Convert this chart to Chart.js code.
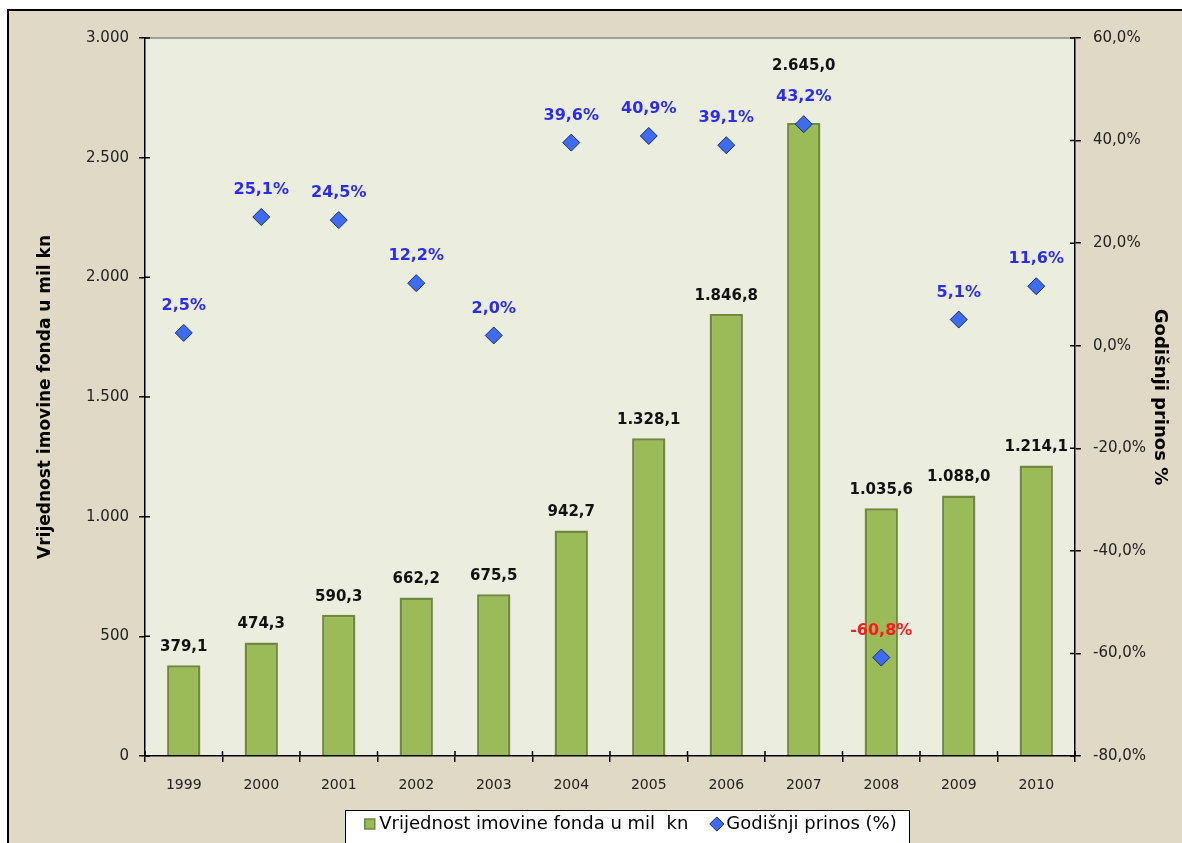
<!DOCTYPE html>
<html>
<head>
<meta charset="utf-8">
<script src="https://cdn.jsdelivr.net/npm/chart.js@4/dist/chart.umd.min.js"></script>
<style>
  html, body { margin: 0; padding: 0; background: #fff; overflow: hidden; }
  #frame { position: absolute; left: 7px; top: 9px; width: 1200px; height: 900px;
           border: 2px solid #000; background: #DFD9C5; }
  #chart { position: absolute; left: 0; top: 0; }
</style>
</head>
<body>
<div id="frame"></div>
<canvas id="chart" width="1182" height="843"></canvas>
<script>
const years = ['1999', '2000', '2001', '2002', '2003', '2004', '2005', '2006', '2007', '2008', '2009', '2010'];
// fund assets, mil kn
const fundValues = [379.1, 474.3, 590.3, 662.2, 675.5, 942.7, 1328.1, 1846.8, 2645.0, 1035.6, 1088.0, 1214.1];
// annual return, %
const annualReturns = [2.5, 25.1, 24.5, 12.2, 2.0, 39.6, 40.9, 39.1, 43.2, -60.8, 5.1, 11.6];
const seriesNames = ['Vrijednost imovine fonda u mil  kn', 'Godišnji prinos (%)'];
const leftRange = [0, 3000, 500];
const rightRange = [-80, 60, 20];

const FONT = 'DejaVu Sans';
const PLOT_BOTTOM = 756;
const LEGEND_SHIFT = 42; // legend sits a bit right of canvas centre

// 1234.5 -> "1.234,5"
function fmt(v, dec) {
  const parts = Math.abs(v).toFixed(dec).split('.');
  const int = parts[0].replace(/\B(?=(\d{3})+(?!\d))/g, '.');
  return (v < 0 ? '-' : '') + int + (parts[1] ? ',' + parts[1] : '');
}

const chartPlugin = {
  id: 'excelLook',
  afterLayout(chart) {
    chart.legend.left += LEGEND_SHIFT;
    chart.legend.right += LEGEND_SHIFT;
  },
  beforeDraw(chart) {
    const {ctx, chartArea: a} = chart;
    ctx.save();
    ctx.fillStyle = '#EBEEDF';
    ctx.fillRect(a.left, a.top, a.right - a.left, a.bottom - a.top);
    ctx.strokeStyle = '#8A8A8A';
    ctx.lineWidth = 1.5;
    ctx.beginPath();
    ctx.moveTo(a.left, a.top);
    ctx.lineTo(a.right, a.top);
    ctx.stroke();
    // white box behind the legend
    const boxes = chart.legend.legendHitBoxes;
    if (boxes && boxes.length) {
      const l = Math.round(Math.min(...boxes.map(b => b.left)) - 24.5);
      const r = Math.round(Math.max(...boxes.map(b => b.left + b.width)) + 12);
      const b0 = boxes[0];
      const t = Math.round(b0.top + b0.height / 2 - 14);
      ctx.fillStyle = '#fff';
      ctx.fillRect(l, t, r - l, chart.height - t + 5);
      ctx.strokeStyle = '#000';
      ctx.lineWidth = 1;
      ctx.strokeRect(l + 0.5, t + 0.5, r - l, chart.height - t + 5);
    }
    ctx.restore();
  },
  afterDatasetsDraw(chart) {
    const {ctx} = chart;
    const bars = chart.getDatasetMeta(0).data;
    const pts = chart.getDatasetMeta(1).data;
    ctx.save();
    ctx.textAlign = 'center';
    ctx.textBaseline = 'middle';
    pts.forEach((p, i) => {
      const v = annualReturns[i];
      ctx.font = 'bold 16px "' + FONT + '"';
      ctx.fillStyle = v < 0 ? '#FF1A1A' : '#2B2BF2';
      ctx.fillText(fmt(v, 1) + '%', p.x, p.y - 27);
    });
    bars.forEach((b, i) => {
      let y = b.y - 18;
      const py = pts[i].y - 27;
      if (Math.abs(y - py) < 20) y = py - 31;
      ctx.font = 'bold 15px "' + FONT + '"';
      ctx.fillStyle = '#111';
      ctx.fillText(fmt(fundValues[i], 1), b.x, y);
    });
    ctx.restore();
  },
  afterDraw(chart) {
    // inner half of the crossing tick marks
    const {ctx, chartArea: a, scales} = chart;
    ctx.save();
    ctx.strokeStyle = '#000';
    ctx.lineWidth = 1.5;
    ctx.beginPath();
    scales.y.ticks.forEach((t, i) => {
      const y = scales.y.getPixelForTick(i);
      ctx.moveTo(a.left, y); ctx.lineTo(a.left + 5, y);
    });
    scales.y1.ticks.forEach((t, i) => {
      const y = scales.y1.getPixelForTick(i);
      ctx.moveTo(a.right - 5, y); ctx.lineTo(a.right, y);
    });
    for (let i = 0; i <= years.length; i++) {
      const x = scales.x.getPixelForValue(i - 0.5);
      ctx.moveTo(x, a.bottom - 5); ctx.lineTo(x, a.bottom);
    }
    ctx.stroke();
    ctx.restore();
  }
};

new Chart(document.getElementById('chart').getContext('2d'), {
  type: 'bar',
  data: {
    labels: years,
    datasets: [{
      type: 'bar',
      label: seriesNames[0],
      data: fundValues,
      yAxisID: 'y',
      order: 1,
      backgroundColor: '#9BBB59',
      borderColor: '#71893F',
      borderWidth: 2.5,
      borderSkipped: 'bottom',
      barPercentage: 0.43,
      categoryPercentage: 1
    }, {
      type: 'line',
      label: seriesNames[1],
      data: annualReturns,
      yAxisID: 'y1',
      order: 0,
      showLine: false,
      pointStyle: 'rectRot',
      pointRadius: 8.5,
      pointBackgroundColor: '#3D6CF0',
      pointBorderColor: '#1E2C66',
      pointBorderWidth: 1
    }]
  },
  options: {
    responsive: false,
    animation: false,
    layout: { padding: { top: 38, left: 0, right: 0, bottom: 0 } },
    plugins: {
      tooltip: { enabled: false },
      legend: {
        position: 'bottom',
        labels: {
          font: { family: FONT, size: 18 },
          color: '#000',
          boxWidth: 1,
          boxHeight: 10,
          padding: 10,
          usePointStyle: true,
          generateLabels: () => [
            // the em space keeps the wide gap between the two entries
            { text: seriesNames[0] + '\u2003', fillStyle: '#9BBB59', strokeStyle: '#71893F', lineWidth: 1.5, pointStyle: 'rect', datasetIndex: 0 },
            { text: seriesNames[1], fillStyle: '#3D6CF0', strokeStyle: '#1E2C66', lineWidth: 1, pointStyle: 'rectRot', datasetIndex: 1 }
          ]
        }
      }
    },
    scales: {
      x: {
        afterFit: s => { s.height = s.chart.height - PLOT_BOTTOM - s.chart.legend.height; },
        grid: { display: true, drawOnChartArea: false, offset: true, color: '#000', lineWidth: 1.5, tickLength: 6 },
        border: { display: true, color: '#000', width: 1.5 },
        ticks: { color: '#222', font: { family: FONT, size: 14 }, padding: 15, maxRotation: 0 }
      },
      y: {
        position: 'left',
        min: leftRange[0], max: leftRange[1],
        afterFit: s => { s.width = 145; },
        grid: { display: true, drawOnChartArea: false, color: '#000', lineWidth: 1.5, tickLength: 6 },
        border: { display: true, color: '#000', width: 1.5 },
        ticks: { stepSize: leftRange[2], color: '#222', font: { family: FONT, size: 15 }, padding: 10,
                 callback: v => fmt(v, 0) },
        title: { display: true, text: 'Vrijednost imovine fonda u mil kn', color: '#000',
                 font: { family: FONT, size: 17, weight: 'bold' }, padding: { top: 35, bottom: 0 } }
      },
      y1: {
        position: 'right',
        min: rightRange[0], max: rightRange[1],
        afterFit: s => { s.width = 107; },
        grid: { display: true, drawOnChartArea: false, color: '#000', lineWidth: 1.5, tickLength: 6 },
        border: { display: true, color: '#000', width: 1.5 },
        ticks: { stepSize: rightRange[2], color: '#222', font: { family: FONT, size: 15 }, padding: 12,
                 callback: v => fmt(v, 1) + '%' },
        title: { display: true, text: 'Godišnji prinos %', color: '#000',
                 font: { family: FONT, size: 18, weight: 'bold' }, padding: { top: 12, bottom: 0 } }
      }
    }
  },
  plugins: [chartPlugin]
});
</script>
</body>
</html>
